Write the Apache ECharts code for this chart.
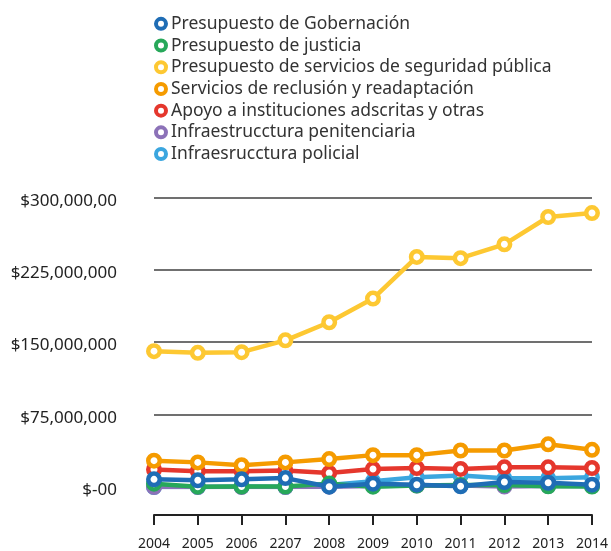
<!DOCTYPE html>
<html>
<head>
<meta charset="utf-8">
<script src="https://cdn.jsdelivr.net/npm/echarts@6/dist/echarts.min.js"></script>
<style>
  html, body { margin: 0; padding: 0; background: #ffffff; }
  #main { width: 611px; height: 551px; }
</style>
</head>
<body>
<div id="main"></div>
<script>
var years = ['2004', '2005', '2006', '2207', '2008', '2009', '2010', '2011', '2012', '2013', '2014'];
var yLabels = ['$-00', '$75,000,000', '$150,000,000', '$225,000,000', '$300,000,00'];

var names = [
  'Presupuesto de Gobernación',
  'Presupuesto de justicia',
  'Presupuesto de servicios de seguridad pública',
  'Servicios de reclusión y readaptación',
  'Apoyo a instituciones adscritas y otras',
  'Infraestrucctura penitenciaria',
  'Infraesrucctura policial'
];
var colors = ['#1f6db5', '#27a85a', '#fdc832', '#f59b00', '#e5372d', '#8c72b8', '#3ba6df'];

// valores en pesos
var gobernacion = [7.9e6, 6.9e6, 7.9e6, 9.2e6, 0.3e6, 3.4e6, 2.4e6, 0.8e6, 5.1e6, 4.4e6, 2.4e6];
var justicia = [3.4e6, 0.3e6, 0.5e6, 0.5e6, 3.5e6, 0.3e6, 1.5e6, 2e6, 2e6, 0.8e6, 0.5e6];
var seguridad = [140.7e6, 138.9e6, 139.6e6, 151.9e6, 170.6e6, 195.1e6, 238.3e6, 237e6, 251.3e6, 279.6e6, 283.7e6];
var reclusion = [27.3e6, 25.5e6, 22.5e6, 25.5e6, 28.9e6, 33e6, 33e6, 37.8e6, 37.8e6, 44.2e6, 38.5e6];
var apoyo = [18.1e6, 16.3e6, 16.3e6, 17.1e6, 14.6e6, 18.7e6, 19.7e6, 18.7e6, 20.4e6, 20.4e6, 19.7e6];
var penitenciaria = [0, 0, 0, 0, 0.3e6, 1e6, 1.5e6, 1.5e6, 0.5e6, 1e6, 1e6];
var policial = [0, 0, 0.5e6, 0, 2e6, 6e6, 10e6, 12e6, 9e6, 9e6, 10e6];

var allData = [gobernacion, justicia, seguridad, reclusion, apoyo, penitenciaria, policial];
var zOrder = [9, 6, 7, 5, 4, 3, 2];

var chart = echarts.init(document.getElementById('main'), null, { renderer: 'canvas' });

var series = names.map(function (n, i) {
  return {
    name: n,
    type: 'line',
    z: zOrder[i],
    data: allData[i],
    symbol: 'circle',
    symbolSize: 11.5,
    lineStyle: { color: colors[i], width: 4.5 },
    itemStyle: { color: '#ffffff', borderColor: colors[i], borderWidth: 4.5 },
    emphasis: { disabled: true }
  };
});

var legendData = names.map(function (n, i) {
  return {
    name: n,
    icon: 'circle',
    itemStyle: { color: '#ffffff', borderColor: colors[i], borderWidth: 4 }
  };
});

var option = {
  backgroundColor: '#ffffff',
  animation: false,
  legend: {
    orient: 'vertical',
    left: 149,
    top: 8,
    itemWidth: 10,
    itemHeight: 10,
    itemGap: 0,
    data: legendData,
    textStyle: {
      fontFamily: 'Noto Sans',
      fontSize: 17.5,
      color: '#333333',
      lineHeight: 21.7,
      padding: [0, 0, 0, 0]
    }
  },
  grid: {
    left: 154,
    right: 11,
    top: 197.3,
    bottom: 61
  },
  xAxis: {
    type: 'category',
    data: years,
    boundaryGap: false,
    offset: 28,
    axisLine: { show: true, onZero: false, lineStyle: { color: '#222222', width: 2 } },
    axisTick: { show: true, length: 10, lineStyle: { color: '#222222', width: 2 } },
    axisLabel: {
      margin: 22,
      fontFamily: 'Noto Sans',
      fontSize: 14,
      color: '#222222'
    },
    splitLine: { show: false }
  },
  yAxis: {
    type: 'value',
    min: 0,
    max: 300000000,
    interval: 75000000,
    axisLine: { show: false },
    axisTick: { show: false },
    axisLabel: {
      margin: 37,
      fontFamily: 'Noto Sans',
      fontSize: 17,
      color: '#222222',
      verticalAlign: 'top',
      lineHeight: 17,
      padding: [-5, 0, 0, 0],
      formatter: function (v) {
        return yLabels[Math.round(v / 75000000)];
      }
    },
    splitLine: { lineStyle: { color: '#707070', width: 2 } }
  },
  series: series
};

chart.setOption(option);
</script>
</body>
</html>
